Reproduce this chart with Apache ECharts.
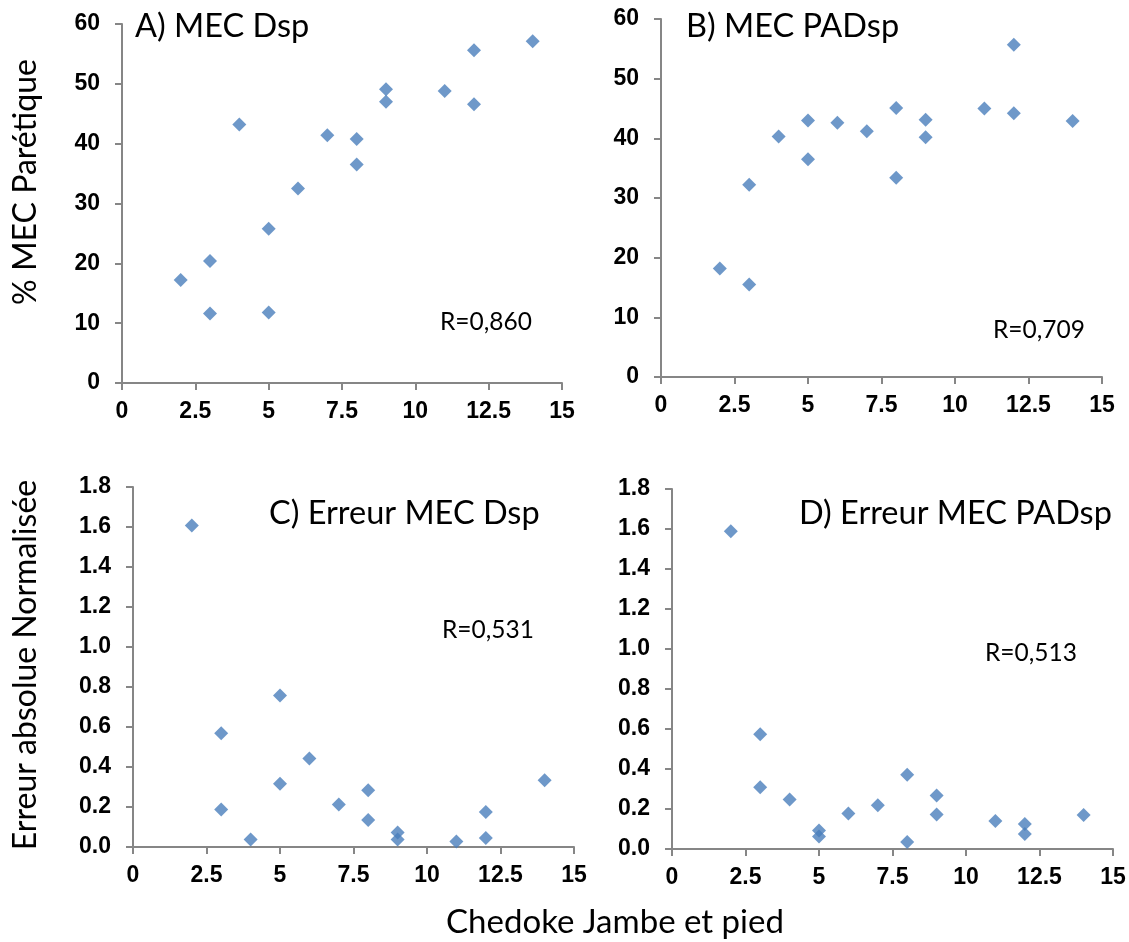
<!DOCTYPE html>
<html>
<head>
<meta charset="utf-8">
<script src="https://cdn.jsdelivr.net/npm/echarts@6/dist/echarts.min.js"></script>
<style>
  html, body { margin: 0; padding: 0; background: #fff; }
  #chart { width: 1129px; height: 942px; }
</style>
</head>
<body>
<div id="chart"></div>
<script>
// Chedoke score (x), shared by the four panels
var chedoke = [2, 3, 3, 4, 5, 5, 6, 7, 8, 8, 9, 9, 11, 12, 12, 14];

// A) MEC Dsp
var mecDsp = [17.2, 20.4, 11.6, 43.2, 25.8, 11.8, 32.5, 41.4, 40.8, 36.5, 49.1, 47.0, 48.8, 55.6, 46.6, 57.1];
// B) MEC PADsp
var mecPADsp = [18.2, 32.2, 15.5, 40.3, 43.0, 36.5, 42.6, 41.2, 45.1, 33.4, 43.1, 40.2, 45.0, 55.7, 44.2, 42.9];
// C) Erreur MEC Dsp
var errDsp = [1.608, 0.569, 0.187, 0.037, 0.758, 0.316, 0.442, 0.212, 0.284, 0.135, 0.072, 0.037, 0.028, 0.175, 0.045, 0.334];
// D) Erreur MEC PADsp
var errPADsp = [1.589, 0.574, 0.309, 0.247, 0.093, 0.063, 0.177, 0.219, 0.371, 0.035, 0.267, 0.172, 0.140, 0.125, 0.075, 0.170];

var panelTitles = ['A) MEC Dsp', 'B) MEC PADsp', 'C) Erreur MEC Dsp', 'D) Erreur MEC PADsp'];
var rLabels = ['R=0,860', 'R=0,709', 'R=0,531', 'R=0,513'];

function pairs(xs, ys) {
  var out = [];
  for (var i = 0; i < xs.length; i++) out.push([xs[i], ys[i]]);
  return out;
}

var axisColor = '#868686';

function xAx(idx) {
  return {
    gridIndex: idx, type: 'value', min: 0, max: 15, interval: 2.5,
    splitLine: { show: false },
    axisLine: { show: true, onZero: false, lineStyle: { color: axisColor, width: 2 } },
    axisTick: { show: true, length: 7, lineStyle: { color: axisColor, width: 2 } },
    axisLabel: {
      margin: 17,
      fontFamily: 'Liberation Sans', fontWeight: 'bold', fontSize: 23, color: '#000'
    }
  };
}
function yAx(idx, max, interval, digits) {
  return {
    gridIndex: idx, type: 'value', min: 0, max: max, interval: interval,
    splitLine: { show: false },
    axisLine: { show: true, onZero: false, lineStyle: { color: axisColor, width: 2 } },
    axisTick: { show: true, length: 7, lineStyle: { color: axisColor, width: 2 } },
    axisLabel: {
      margin: 22,
      fontFamily: 'Liberation Sans', fontWeight: 'bold', fontSize: 23, color: '#000',
      formatter: function (v) { return digits ? v.toFixed(digits) : String(v); }
    }
  };
}

var sets = [pairs(chedoke, mecDsp), pairs(chedoke, mecPADsp), pairs(chedoke, errDsp), pairs(chedoke, errPADsp)];

var series = sets.map(function (d, i) {
  return {
    type: 'scatter', xAxisIndex: i, yAxisIndex: i,
    symbol: 'diamond', symbolSize: 14,
    itemStyle: { color: '#4a7ebb' },
    data: d
  };
});

function txt(x, y, s, size, align, rot) {
  return {
    type: 'text', x: x, y: y, rotation: rot || 0,
    style: {
      text: s, fontFamily: 'Lato', fontSize: size, fill: '#000',
      align: align || 'left', verticalAlign: 'middle'
    }
  };
}

var option = {
  animation: false,
  grid: [
    { left: 122, top: 24, width: 440, height: 359 },
    { left: 661, top: 19, width: 441, height: 358 },
    { left: 133, top: 487, width: 441, height: 360 },
    { left: 672, top: 489, width: 441, height: 360 }
  ],
  xAxis: [xAx(0), xAx(1), xAx(2), xAx(3)],
  yAxis: [yAx(0, 60, 10, 0), yAx(1, 60, 10, 0), yAx(2, 1.8, 0.2, 1), yAx(3, 1.8, 0.2, 1)],
  series: series,
  graphic: [
    txt(135, 27, panelTitles[0], 32.5),
    txt(686, 27, panelTitles[1], 32.5),
    txt(269, 514, panelTitles[2], 32.5),
    txt(799, 514, panelTitles[3], 32.5),
    txt(440, 322, rLabels[0], 24.5),
    txt(993, 330, rLabels[1], 24.5),
    txt(442, 630, rLabels[2], 24.5),
    txt(985, 653, rLabels[3], 24.5),
    txt(26, 182, '% MEC Parétique', 32, 'center', Math.PI / 2),
    txt(26, 665, 'Erreur absolue Normalisée', 32, 'center', Math.PI / 2),
    txt(615, 922, 'Chedoke Jambe et pied', 33, 'center')
  ]
};

var chart = echarts.init(document.getElementById('chart'));
chart.setOption(option);
</script>
</body>
</html>
